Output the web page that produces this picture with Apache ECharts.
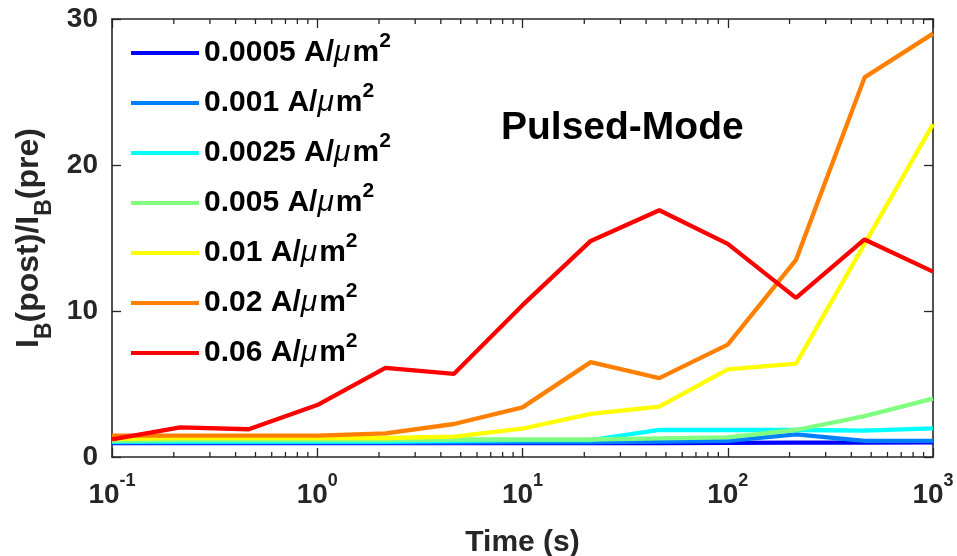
<!DOCTYPE html>
<html><head><meta charset="utf-8">
<script src="https://cdn.jsdelivr.net/npm/echarts@6/dist/echarts.min.js"></script>
<style>html,body{margin:0;padding:0;background:#fff}#c{width:957px;height:556px}</style>
</head><body><div id="c"></div>
<script>
// ---- data ----
var times = [0.1, 0.215, 0.464, 1, 2.15, 4.64, 10, 21.5, 46.4, 100, 215, 464, 1000];
var seriesNames = ['0.0005', '0.001', '0.0025', '0.005', '0.01', '0.02', '0.06'];
var v0005 = [0.95, 0.95, 0.95, 0.95, 0.95, 0.95, 0.95, 0.95, 0.95, 0.97, 0.98, 0.98, 1.0];
var v001  = [1.0, 1.0, 1.0, 1.0, 1.0, 1.0, 1.02, 1.02, 1.05, 1.1, 1.55, 1.1, 1.1];
var v0025 = [1.05, 1.05, 1.05, 1.05, 1.05, 1.1, 1.15, 1.15, 1.85, 1.85, 1.85, 1.8, 1.96];
var v005  = [1.1, 1.15, 1.15, 1.15, 1.15, 1.2, 1.2, 1.2, 1.28, 1.35, 1.85, 2.8, 4.0];
var v01   = [1.25, 1.3, 1.3, 1.3, 1.3, 1.4, 1.95, 2.95, 3.45, 6.0, 6.4, 14.6, 22.8];
var v02   = [1.46, 1.46, 1.46, 1.46, 1.62, 2.26, 3.4, 6.5, 5.4, 7.7, 13.5, 26.0, 29.0];
var v06   = [1.2, 2.03, 1.9, 3.56, 6.1, 5.7, 10.4, 14.8, 16.9, 14.6, 10.9, 14.9, 12.7];
var seriesValues = [v0005, v001, v0025, v005, v01, v02, v06];
var colors = ['#0000ff', '#0080ff', '#00ffff', '#80ff80', '#ffff00', '#ff8000', '#ff0000'];
var yTicks = [0, 10, 20, 30];
var xDecades = [0.1, 1, 10, 100, 1000];
var minorTicks = [];
[0.1, 1, 10, 100].forEach(function (d) { for (var k = 2; k <= 9; k++) minorTicks.push(+(d * k).toPrecision(3)); });

var FONT = 'Liberation Sans, Arial, Helvetica, sans-serif';
var AX = '#262626';

var series = seriesNames.map(function (n, i) {
  return {
    name: n, type: 'line', xAxisIndex: 0, yAxisIndex: 0,
    data: times.map(function (t, j) { return [t, seriesValues[i][j]]; }),
    showSymbol: false, symbol: 'none', smooth: false,
    lineStyle: { color: colors[i], width: 4.3 }, itemStyle: { color: colors[i] },
    z: 3 + i, animation: false
  };
});
series.push({
  type: 'custom', xAxisIndex: 0, yAxisIndex: 0, silent: true, animation: false, z: 20,
  data: minorTicks.map(function (v) { return [v]; }),
  renderItem: function (params, api) {
    var v = api.value(0);
    var b = api.coord([v, 0]);
    var t = api.coord([v, 30]);
    var st = { stroke: AX, lineWidth: 1.3 };
    return { type: 'group', children: [
      { type: 'line', shape: { x1: b[0], y1: b[1], x2: b[0], y2: b[1] - 5 }, style: st },
      { type: 'line', shape: { x1: t[0], y1: t[1], x2: t[0], y2: t[1] + 5 }, style: st }
    ] };
  }
});

var xBase = {
  type: 'log', logBase: 10, min: xDecades[0], max: xDecades[xDecades.length - 1],
  axisLine: { show: true, onZero: false, lineStyle: { color: AX, width: 1.6 } },
  axisTick: { show: true, inside: true, length: 9, lineStyle: { color: AX, width: 1.3 } },
  minorTick: { show: false }, splitLine: { show: false }
};
var yBase = {
  type: 'value', min: yTicks[0], max: yTicks[yTicks.length - 1], interval: 10,
  axisLine: { show: true, onZero: false, lineStyle: { color: AX, width: 1.6 } },
  axisTick: { show: true, inside: true, length: 9, lineStyle: { color: AX, width: 1.3 } },
  splitLine: { show: false }
};

var option = {
  backgroundColor: '#fff',
  animation: false,
  textStyle: { fontFamily: FONT },
  grid: { left: 112, right: 24, top: 19, bottom: 99, containLabel: false, outerBoundsMode: 'none' },
  title: {
    text: 'Pulsed-Mode', left: 496, top: 104,
    textStyle: { fontFamily: FONT, fontSize: 39, fontWeight: 'bold', color: '#000' }
  },
  legend: {
    orient: 'vertical', left: 131, top: 26, padding: 0,
    data: seriesNames, icon: 'rect', itemWidth: 68, itemHeight: 4, itemGap: 8,
    formatter: function (n) { return '{a|' + n + ' A/}{mu|μ}{a|m}{sup|2}'; },
    textStyle: {
      fontFamily: FONT, color: '#000',
      rich: {
        a: { fontFamily: FONT, fontSize: 30, fontWeight: 'bold', color: '#000', lineHeight: 30, verticalAlign: 'bottom' },
        mu: { fontFamily: FONT, fontSize: 30, fontStyle: 'italic', fontWeight: 'normal', color: '#000', lineHeight: 30, verticalAlign: 'bottom', padding: [0, 2, 0, 0] },
        sup: { fontFamily: FONT, fontSize: 21, fontWeight: 'bold', color: '#000', lineHeight: 20, verticalAlign: 'bottom', padding: [5, 0, 16, 0] }
      }
    }
  },
  xAxis: [
    Object.assign({}, xBase, {
      position: 'bottom',
      name: 'Time (s)', nameLocation: 'middle', nameGap: 71,
      nameTextStyle: { fontFamily: FONT, fontSize: 30, fontWeight: 'bold', color: AX },
      axisLabel: {
        show: true, margin: 22, color: AX,
        formatter: function (v) { var e = Math.round(Math.log10(v)); return '{b|10}{s|' + e + '}'; },
        rich: {
          b: { fontFamily: FONT, fontSize: 28, fontWeight: 'bold', color: AX, lineHeight: 30, verticalAlign: 'bottom' },
          s: { fontFamily: FONT, fontSize: 18, fontWeight: 'bold', color: AX, lineHeight: 14, verticalAlign: 'bottom', padding: [1, 0, 19, 0] }
        }
      }
    }),
    Object.assign({}, xBase, { position: 'top', axisLabel: { show: false } })
  ],
  yAxis: [
    Object.assign({}, yBase, {
      position: 'left',
      name: '{a|I}{b|B}{a|(post)/I}{b|B}{a|(pre)}', nameLocation: 'middle', nameGap: 60, nameRotate: 90,
      nameTextStyle: {
        rich: {
          a: { fontFamily: FONT, fontSize: 32, fontWeight: 'bold', color: AX, lineHeight: 32, verticalAlign: 'top' },
          b: { fontFamily: FONT, fontSize: 23, fontWeight: 'bold', color: AX, lineHeight: 23, verticalAlign: 'top', padding: [20, 0, 0, 0] }
        }
      },
      axisLabel: { show: true, margin: 14, color: AX, fontFamily: FONT, fontSize: 28, fontWeight: 'bold' }
    }),
    Object.assign({}, yBase, { position: 'right', axisLabel: { show: false } })
  ],
  series: series
};
var chart = echarts.init(document.getElementById('c'), null, { renderer: 'canvas' });
chart.setOption(option);
</script></body></html>
